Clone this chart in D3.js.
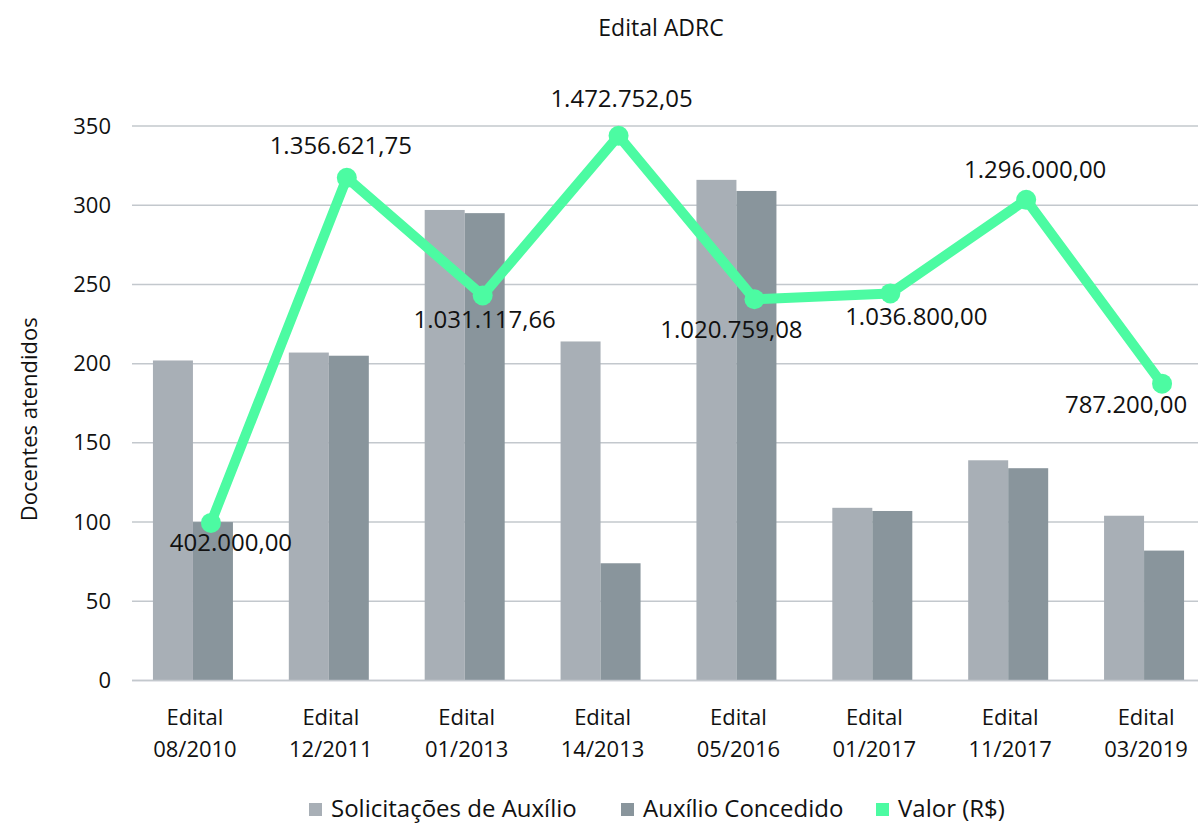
<!DOCTYPE html>
<html lang="pt-BR">
<head>
<meta charset="utf-8">
<title>Edital ADRC</title>
<script src="https://cdn.jsdelivr.net/npm/d3@7"></script>
<style>
  html, body { margin: 0; padding: 0; background: #ffffff; }
  svg { display: block; }
  text { fill: #111; }
</style>
</head>
<body>
<svg id="chart" width="1198" height="826"></svg>
<script>
// Editais (categorias do eixo X), em duas linhas
const editais = ["Edital 08/2010", "Edital 12/2011", "Edital 01/2013", "Edital 14/2013",
                 "Edital 05/2016", "Edital 01/2017", "Edital 11/2017", "Edital 03/2019"];
// Docentes atendidos
const solicitacoes = [202, 207, 297, 214, 316, 109, 139, 104];
const concedidos   = [100, 205, 295, 74, 309, 107, 134, 82];
// Valor total concedido (R$)
const valores = [402000.00, 1356621.75, 1031117.66, 1472752.05, 1020759.08, 1036800.00, 1296000.00, 787200.00];
const yTicks = [0, 50, 100, 150, 200, 250, 300, 350];
const seriesNames = ["Solicitações de Auxílio", "Auxílio Concedido", "Valor (R$)"];

// Posição de cada rótulo de valor em relação ao seu ponto (dx, dy)
const labelOffsets = [[20, 22], [-6, -30], [2, 26], [3, -35], [-23, 32], [26, 25], [9, -28], [-36, 23]];

const colors = { sol: "#a8afb6", con: "#89959c", val: "#4cfba2", grid: "#c3c8cd" };
const FONT = "'Open Sans', 'Noto Sans', sans-serif";

const svg = d3.select("#chart");

const x = d3.scaleBand().domain(editais).range([125, 1212]);
const inner = d3.scaleBand().domain(["sol", "con"]).range([x.bandwidth() / 2 - 40, x.bandwidth() / 2 + 40]);
const y = d3.scaleLinear().domain([0, 350]).range([680.5, 126]);
// Eixo secundário (oculto) para os valores em R$
const y2 = d3.scaleLinear().domain([-34000, 1500000]).range([y(0), y(350)]);

// Título
svg.append("text")
  .attr("x", 661).attr("y", 36)
  .attr("text-anchor", "middle")
  .style("font-family", FONT).style("font-size", "23px")
  .text("Edital ADRC");

// Linhas de grade
svg.append("g").selectAll("line").data(yTicks).join("line")
  .attr("x1", 132).attr("x2", 1198)
  .attr("y1", d => y(d)).attr("y2", d => y(d))
  .attr("stroke", colors.grid).attr("stroke-width", 1.5);

// Eixo Y
const yAxis = d3.axisLeft(y).tickValues(yTicks).tickSize(0).tickPadding(0).tickFormat(d3.format("d"));
svg.append("g")
  .attr("transform", "translate(111,0)")
  .call(yAxis)
  .call(g => g.select(".domain").remove())
  .call(g => g.selectAll("text")
      .style("font-family", FONT).style("font-size", "22px").attr("fill", "#111"));

// Título do eixo Y
svg.append("text")
  .attr("transform", `translate(37,${(y(0) + y(350)) / 2 + 16}) rotate(-90)`)
  .attr("text-anchor", "middle")
  .style("font-family", FONT).style("font-size", "22px")
  .text("Docentes atendidos");

// Barras
const groups = svg.append("g").selectAll("g").data(editais).join("g")
  .attr("transform", d => `translate(${x(d)},0)`);

groups.append("rect")
  .attr("x", inner("sol")).attr("width", inner.bandwidth())
  .attr("y", (d, i) => y(solicitacoes[i]))
  .attr("height", (d, i) => y(0) - y(solicitacoes[i]))
  .attr("fill", colors.sol);

groups.append("rect")
  .attr("x", inner("con")).attr("width", inner.bandwidth())
  .attr("y", (d, i) => y(concedidos[i]))
  .attr("height", (d, i) => y(0) - y(concedidos[i]))
  .attr("fill", colors.con);

// Linha do eixo X
svg.append("line")
  .attr("x1", 132).attr("x2", 1198)
  .attr("y1", y(0)).attr("y2", y(0))
  .attr("stroke", colors.grid).attr("stroke-width", 1.5);

// Rótulos do eixo X (duas linhas)
const xl = svg.append("g").selectAll("text").data(editais).join("text")
  .attr("x", d => x(d) + x.bandwidth() / 2 + 2)
  .attr("y", 725)
  .attr("text-anchor", "middle")
  .style("font-family", FONT).style("font-size", "22px");
xl.append("tspan").attr("x", d => x(d) + x.bandwidth() / 2 + 2).text(d => d.split(" ")[0]);
xl.append("tspan").attr("x", d => x(d) + x.bandwidth() / 2 + 2).attr("dy", 32).text(d => d.split(" ")[1]);

// Linha de valores
const cx = d => x(d) + x.bandwidth() / 2 + 18;
const line = d3.line().x((d, i) => cx(editais[i])).y(d => y2(d));
svg.append("path")
  .datum(valores)
  .attr("d", line)
  .attr("fill", "none")
  .attr("stroke", colors.val)
  .attr("stroke-width", 10)
  .attr("stroke-linejoin", "round");

svg.append("g").selectAll("circle").data(valores).join("circle")
  .attr("cx", (d, i) => cx(editais[i]))
  .attr("cy", d => y2(d))
  .attr("r", 10)
  .attr("fill", colors.val);

// Rótulos de valores
const fmtBR = v => {
  const [int, dec] = v.toFixed(2).split(".");
  return int.replace(/\B(?=(\d{3})+(?!\d))/g, ".") + "," + dec;
};
svg.append("g").selectAll("text").data(valores).join("text")
  .attr("x", (d, i) => cx(editais[i]) + labelOffsets[i][0])
  .attr("y", (d, i) => y2(d) + labelOffsets[i][1])
  .attr("text-anchor", "middle")
  .attr("dominant-baseline", "middle")
  .style("font-family", FONT).style("font-size", "24px")
  .text(d => fmtBR(d));

// Legenda
const legendItems = [
  { name: seriesNames[0], color: colors.sol, x: 309 },
  { name: seriesNames[1], color: colors.con, x: 621 },
  { name: seriesNames[2], color: colors.val, x: 876 }
];
const lg = svg.append("g").selectAll("g").data(legendItems).join("g")
  .attr("transform", d => `translate(${d.x},810)`);
lg.append("rect").attr("x", 0).attr("y", -7).attr("width", 13).attr("height", 13).attr("fill", d => d.color);
lg.append("text").attr("x", 22).attr("y", 1)
  .attr("dominant-baseline", "middle")
  .style("font-family", FONT).style("font-size", "24px")
  .text(d => d.name);
</script>
</body>
</html>
